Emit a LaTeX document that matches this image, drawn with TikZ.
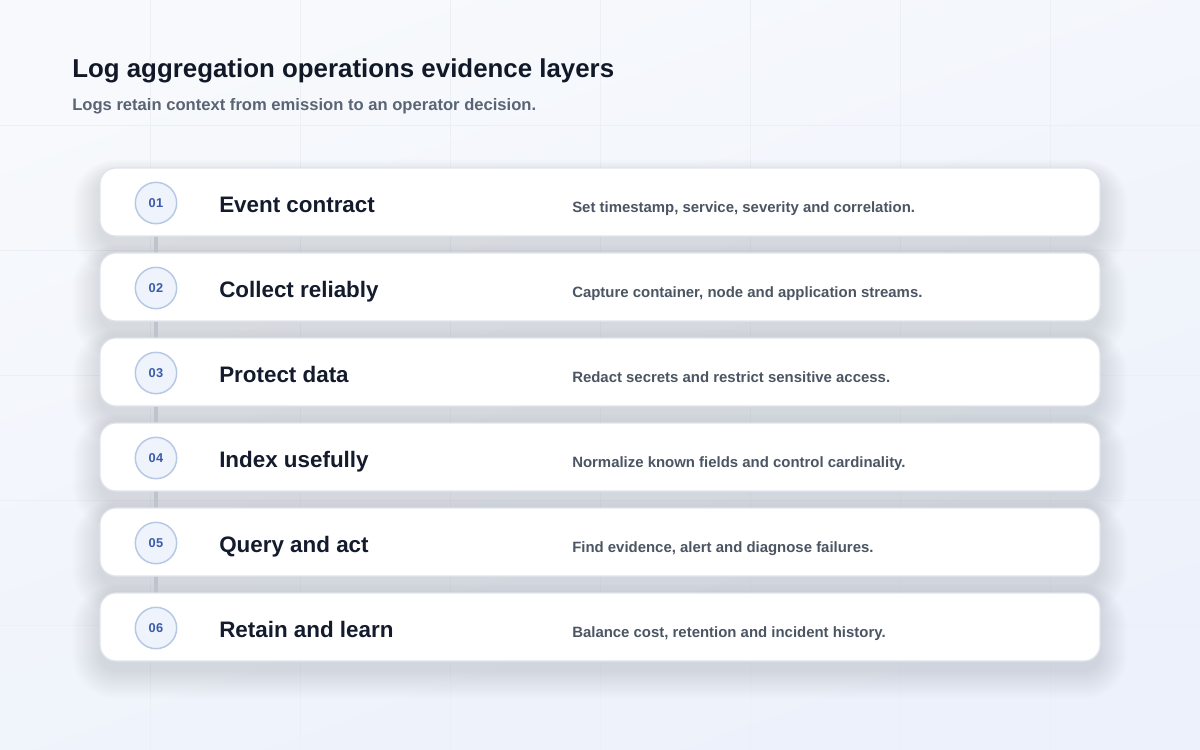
\documentclass[tikz,border=0pt]{standalone}
\usepackage{fontspec}
\setmainfont{Liberation Sans}
\definecolor{bgA}{HTML}{F7F9FC}
\definecolor{bgB}{HTML}{ECF1FB}
\definecolor{gridc}{HTML}{ECEFF5}
\definecolor{headc}{HTML}{111827}
\definecolor{subc}{HTML}{5A6475}
\definecolor{ttlc}{HTML}{141B2D}
\definecolor{dscc}{HTML}{4B5563}
\definecolor{cardline}{HTML}{DFE4EC}
\definecolor{circfill}{HTML}{EEF3FC}
\definecolor{circline}{HTML}{B6C8E6}
\definecolor{numc}{HTML}{3A5BAA}
\definecolor{connc}{HTML}{BFC3CB}
\definecolor{shadc}{HTML}{34427E}
\pgfdeclarelayer{behind}
\pgfsetlayers{behind,main}
\begin{document}
\begin{tikzpicture}[x=0.75pt,y=-0.75pt,
  card/.style={draw=cardline, line width=0.9pt, fill=white, rounded corners=12pt,
    minimum width=750pt, minimum height=51pt, inner sep=0pt},
  badge/.style={circle, draw=circline, line width=1.1pt, fill=circfill,
    minimum size=31pt, inner sep=0pt, text=numc,
    font=\fontsize{9.6pt}{11pt}\selectfont\bfseries\addfontfeatures{LetterSpace=4}},
  ttl/.style={anchor=base west, inner sep=0pt, text=ttlc,
    font=\fontsize{16.8pt}{20pt}\selectfont\bfseries},
  dsc/.style={anchor=base west, inner sep=0pt, text=dscc,
    font=\fontsize{11.2pt}{13pt}\selectfont\bfseries},
  head/.style={anchor=base west, inner sep=0pt, text=headc,
    font=\fontsize{19.4pt}{23pt}\selectfont\bfseries},
  subhead/.style={anchor=base west, inner sep=0pt, text=subc,
    font=\fontsize{12.45pt}{15pt}\selectfont\bfseries},
  link/.style={draw=connc, line width=2.4pt},
  gridl/.style={draw=gridc, line width=0.75pt},
  shadowl/.style={fill=shadc, fill opacity=0.002}
]
\useasboundingbox (0,0) rectangle (1200,750);
\begin{pgfonlayer}{behind}
  \shade[shading=axis, top color=bgA, bottom color=bgB, shading angle=20] (0,0) rectangle (1200,750);
  \foreach \gx in {150,300,...,1050} \draw[gridl] (\gx,0) -- (\gx,750);
  \foreach \gy in {125,250,...,625} \draw[gridl] (0,\gy) -- (1200,\gy);
  \foreach \cy in {202,287,372,457,542,627}
    \foreach \e in {0,1,...,28}{
      \pgfmathsetmacro\rr{(16+\e)*0.75}
      \fill[shadowl, rounded corners=\rr pt] (100-\e,\cy-26-0.6*\e) rectangle (1100+\e,\cy+44+\e);
    }
\end{pgfonlayer}

\node[head] (title) at (72,77) {Log aggregation operations evidence layers};
\node[subhead] (subtitle) at (72,110) {Logs retain context from emission to an operator decision.};

\node[card] (c1) at (600,202) {};
\node[card] (c2) at (600,287) {};
\node[card] (c3) at (600,372) {};
\node[card] (c4) at (600,457) {};
\node[card] (c5) at (600,542) {};
\node[card] (c6) at (600,627) {};

\node[badge] (n1) at (156,203) {01};
\node[badge] (n2) at (156,288) {02};
\node[badge] (n3) at (156,373) {03};
\node[badge] (n4) at (156,458) {04};
\node[badge] (n5) at (156,543) {05};
\node[badge] (n6) at (156,628) {06};

\node[ttl] (t1) at (219,212) {Event contract};
\node[ttl] (t2) at (219,297) {Collect reliably};
\node[ttl] (t3) at (219,382) {Protect data};
\node[ttl] (t4) at (219,467) {Index usefully};
\node[ttl] (t5) at (219,552) {Query and act};
\node[ttl] (t6) at (219,637) {Retain and learn};

\node[dsc] (d1) at (572,212) {Set timestamp, service, severity and correlation.};
\node[dsc] (d2) at (572,297) {Capture container, node and application streams.};
\node[dsc] (d3) at (572,382) {Redact secrets and restrict sensitive access.};
\node[dsc] (d4) at (572,467) {Normalize known fields and control cardinality.};
\node[dsc] (d5) at (572,552) {Find evidence, alert and diagnose failures.};
\node[dsc] (d6) at (572,637) {Balance cost, retention and incident history.};

\begin{pgfonlayer}{behind}
  \draw[link] (n1) -- (n2);
  \draw[link] (n2) -- (n3);
  \draw[link] (n3) -- (n4);
  \draw[link] (n4) -- (n5);
  \draw[link] (n5) -- (n6);
\end{pgfonlayer}
\end{tikzpicture}
\end{document}
